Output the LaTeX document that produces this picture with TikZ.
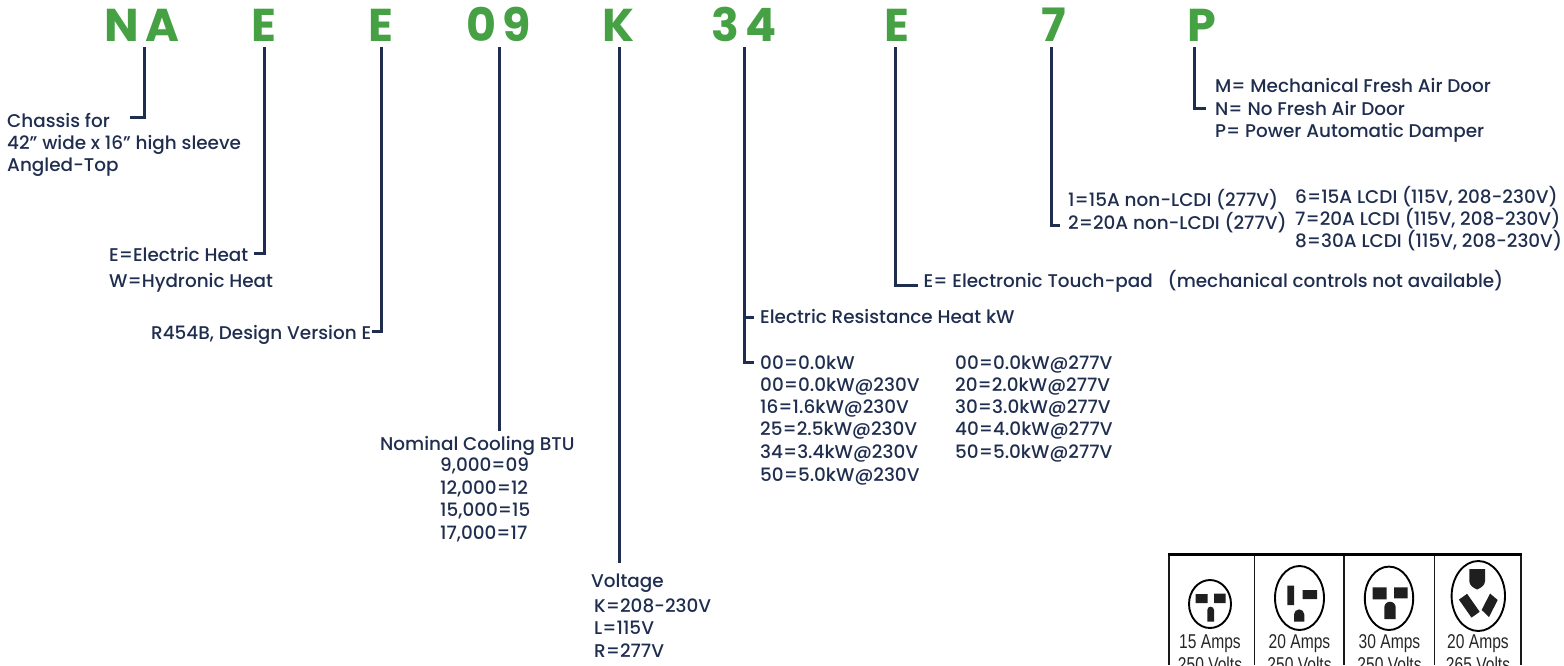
\documentclass[tikz,border=0pt]{standalone}
\usepackage{fontspec}
\setmainfont{Poppins Medium}[BoldFont={Poppins Bold}]
\newfontfamily\plugfont[FakeStretch=0.78]{Liberation Sans}
\definecolor{navy}{HTML}{1F2D4F}
\definecolor{codegreen}{HTML}{46A145}
\tikzset{
  codeletter/.style={anchor=base,inner sep=0pt,outer ysep=6pt,text=codegreen,font=\fontsize{46}{46}\selectfont\bfseries},
  txt/.style={anchor=base west,inner sep=0pt,text=navy,font=\fontsize{18.4}{20}\selectfont},
  conn/.style={draw=navy,line width=3pt},
  plugface/.style={draw=black,line width=1.9pt},
  blade/.style={fill=black!88,draw=none},
  plugtxt/.style={anchor=base,inner sep=0pt,text=black!85,font=\plugfont\fontsize{20}{20}\selectfont},
}
\begin{document}
\begin{tikzpicture}[x=1pt,y=-1pt]
\useasboundingbox (0,0) rectangle (1564,665);
\clip (0,0) rectangle (1564,665);
% code letters
\node[codeletter] (lNA) at (142,41) {N\kern7pt A};
\node[codeletter] (lE1) at (264,41) {E};
\node[codeletter] (lE2) at (381,41) {E};
\node[codeletter] (l09) at (499,41) {0\kern6pt 9};
\node[codeletter] (lK) at (619,41) {K};
\node[codeletter] (l34) at (744,41) {3\kern6pt 4};
\node[codeletter] (lE3) at (897,41) {E};
\node[codeletter] (l7) at (1054,41) {7};
\node[codeletter] (lP) at (1202,41) {P};
% labels
\node[txt] (t1a) at (7,127) {Chassis for};
\node[txt] (t1b) at (7,149) {42” wide x 16” high sleeve};
\node[txt] (t1c) at (7,171) {Angled-Top};
\node[txt] (t2a) at (109,261) {E=Electric Heat};
\node[txt] (t2b) at (109,287) {W=Hydronic Heat};
\node[txt] (t3) at (151,339) {R454B, Design Version E};
\node[txt] (t4a) at (380,450) {Nominal Cooling BTU};
\node[txt] (t4b) at (440,471.6) {9,000=09};
\node[txt] (t4c) at (440,494) {12,000=12};
\node[txt] (t4d) at (440,516) {15,000=15};
\node[txt] (t4e) at (440,539) {17,000=17};
\node[txt] (t5a) at (591,587) {Voltage};
\node[txt] (t5b) at (594,612) {K=208-230V};
\node[txt] (t5c) at (594,634.6) {L=115V};
\node[txt] (t5d) at (594,657) {R=277V};
\node[txt] (t6) at (760,323.6) {Electric Resistance Heat kW};
\node[txt] (t6a) at (760,369) {00=0.0kW};
\node[txt] (t6b) at (760,391) {00=0.0kW@230V};
\node[txt] (t6c) at (760,413) {16=1.6kW@230V};
\node[txt] (t6d) at (760,435) {25=2.5kW@230V};
\node[txt] (t6e) at (760,458) {34=3.4kW@230V};
\node[txt] (t6f) at (760,481) {50=5.0kW@230V};
\node[txt] (t6g) at (955,369) {00=0.0kW@277V};
\node[txt] (t6h) at (955,391) {20=2.0kW@277V};
\node[txt] (t6i) at (955,413) {30=3.0kW@277V};
\node[txt] (t6j) at (955,435) {40=4.0kW@277V};
\node[txt] (t6k) at (955,458) {50=5.0kW@277V};
\node[txt] (t7) at (923.5,287.6) {E= Electronic Touch-pad};
\node[txt] (t7b) at (1167.5,287.6) {(mechanical controls not available)};
\node[txt] (t8a) at (1068,206.6) {1=15A non-LCDI (277V)};
\node[txt] (t8b) at (1068,229) {2=20A non-LCDI (277V)};
\node[txt] (t8c) at (1295,203) {6=15A LCDI (115V, 208-230V)};
\node[txt] (t8d) at (1295,225) {7=20A LCDI (115V, 208-230V)};
\node[txt] (t8e) at (1295,247) {8=30A LCDI (115V, 208-230V)};
\node[txt] (t9a) at (1215,92) {M= Mechanical Fresh Air Door};
\node[txt] (t9b) at (1215,115) {N= No Fresh Air Door};
\node[txt] (t9c) at (1215,137) {P= Power Automatic Damper};
% connector ends
\coordinate (eNA) at (130,117.5);
\coordinate (eE1) at (254,253);
\coordinate (eE2) at (372,331);
\coordinate (e09) at (499,431);
\coordinate (eK) at (619,563);
\coordinate (e34a) at (754,317);
\coordinate (e34b) at (754,362);
\coordinate (eE3) at (918,285);
\coordinate (e7) at (1060,225);
\coordinate (eP) at (1206,108);
% connectors
\draw[conn] ([xshift=2pt]lNA.south) |- (eNA);
\draw[conn] (lE1.south) |- (eE1);
\draw[conn] (lE2.south) |- (eE2);
\draw[conn] (l09.south) -- (e09);
\draw[conn] (lK.south) -- (eK);
\draw[conn] (l34.south) |- (e34b);
\draw[conn] (l34.south |- e34a) -- (e34a);
\draw[conn] ([xshift=-2pt]lE3.south) |- (eE3);
\draw[conn] ([xshift=-3pt]l7.south) |- (e7);
\draw[conn] ([xshift=-8pt]lP.south) |- (eP);
% receptacle chart
\draw[black!90,line width=1.6pt] (1254.5,554) -- (1254.5,665) (1344,554) -- (1344,665) (1434.5,554) -- (1434.5,665);
\draw[black!90,line width=1.2pt] (1169,554) -- (1169,665) (1521,554) -- (1521,665);
\draw[black,line width=3pt] (1168,554) -- (1522,554);
% plug 1
\draw[plugface] (1210,604) ellipse [x radius=21,y radius=24];
\fill[blade] (1195.7,594) rectangle (1207.7,603) (1214,593.5) rectangle (1225.7,603);
\fill[blade] (1207.3,621.7) -- (1207.3,610) arc[start angle=180,end angle=0,x radius=3.35,y radius=-3.35] -- (1214,621.7) -- cycle;
% plug 2
\draw[plugface] (1299.5,598) ellipse [x radius=24.5,y radius=32];
\fill[blade] (1287.3,585.7) rectangle (1294,605) (1302.7,590) rectangle (1317,599);
\fill[blade] (1294,621.7) -- (1294,614.5) arc[start angle=180,end angle=0,x radius=5.15,y radius=-5.15] -- (1304.3,621.7) -- cycle;
% plug 3
\draw[plugface] (1389,598.3) ellipse [x radius=24.2,y radius=31.7];
\fill[blade] (1372.7,587.3) rectangle (1386.7,599.3) (1394,587.3) rectangle (1407.7,598.3);
\fill[blade] (1384.3,619) -- (1384.3,607.4) arc[start angle=180,end angle=0,x radius=5.7,y radius=-5.7] -- (1395.7,619) -- cycle;
% plug 4
\draw[plugface] (1478.3,596) ellipse [x radius=26.7,y radius=35];
\fill[blade] (1469.3,569) -- (1485,569) -- (1485,581) .. controls (1485,586) and (1480,588) .. (1477.2,589.5) .. controls (1474,588) and (1469.3,586) .. (1469.3,581) -- cycle;
\fill[blade] (1467.1,593.8) -- (1479.7,611.8) -- (1471.5,617.6) -- (1458.9,599.6) -- cycle;
\fill[blade] (1490,593.5) -- (1497.7,600) -- (1489,617) -- (1481.7,610) -- cycle;
% chart text
\node[plugtxt] (p1) at (1210,648.4) {15 Amps};
\node[plugtxt] (p2) at (1299.5,648.4) {20 Amps};
\node[plugtxt] (p3) at (1389.5,648.4) {30 Amps};
\node[plugtxt] (p4) at (1478,648.4) {20 Amps};
\node[plugtxt] (v1) at (1210,671.5) {250 Volts};
\node[plugtxt] (v2) at (1299.5,671.5) {250 Volts};
\node[plugtxt] (v3) at (1389.5,671.5) {250 Volts};
\node[plugtxt] (v4) at (1478,671.5) {265 Volts};
\end{tikzpicture}
\end{document}
